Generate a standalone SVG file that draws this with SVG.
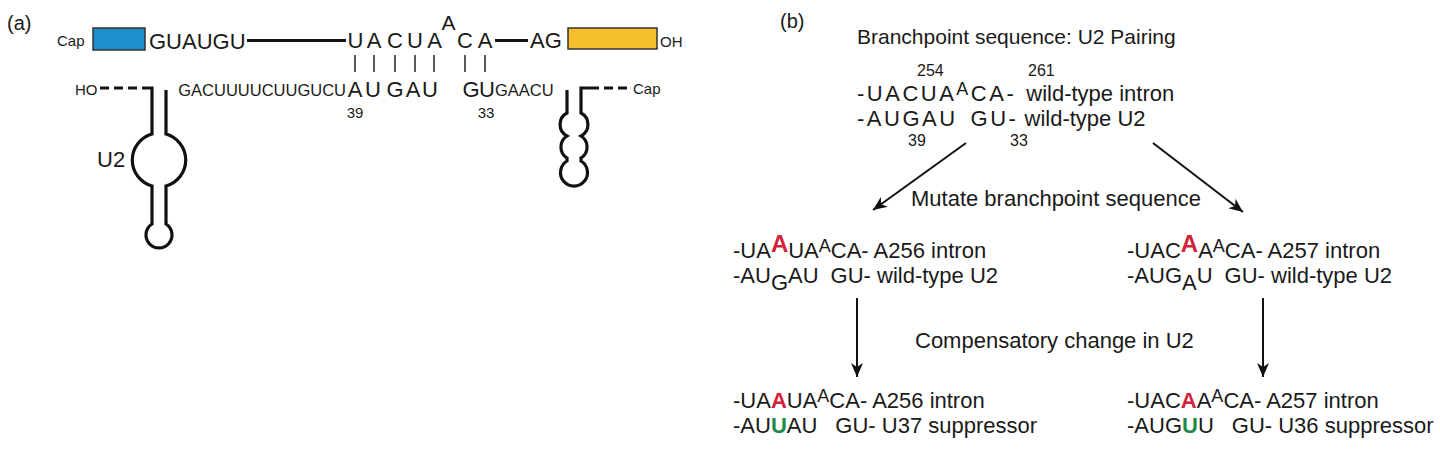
<svg xmlns="http://www.w3.org/2000/svg" width="1440" height="452" viewBox="0 0 1440 452">
<style>
text{font-family:"Liberation Sans",Arial,sans-serif;fill:#1a1a1a}
.lab{font-size:20px}
.big{font-size:22px}
.mid{font-size:16.5px}
.sm{font-size:15px}
.num{font-size:16px}
.seq{font-size:22px}
.ttl{font-size:21px}
.sup{font-size:18px}
.ls{letter-spacing:2.5px}
.red{fill:#d3233a;font-weight:bold;font-size:24px}
.redi{fill:#d3233a;font-weight:bold}
.grn{fill:#1f8a4a;font-weight:bold}
.strand{fill:none;stroke:#111;stroke-width:3.2}
.dash{fill:none;stroke:#111;stroke-width:3.2;stroke-dasharray:9 5}
.pair{stroke:#222;stroke-width:1.5}
.arr{stroke:#111;stroke-width:2;fill:none;marker-end:url(#ah)}
</style>
<defs>
<marker id="ah" markerUnits="userSpaceOnUse" markerWidth="16" markerHeight="12" refX="14" refY="6" orient="auto">
<path d="M0,0 L14,6 L0,12 L4,6 Z" fill="#111"/>
</marker>
</defs>
<rect width="1440" height="452" fill="#fff"/>

<g id="panel-a">
<text class="lab" x="7" y="30">(a)</text>
<g id="pre-mrna">
<text class="sm" x="57" y="46">Cap</text>
<rect x="93" y="28" width="52" height="22" fill="#1e8fcb" stroke="#333" stroke-width="1.5"/>
<text class="big" x="149" y="49">GUAUGU</text>
<line class="strand" x1="247" y1="40.5" x2="346" y2="40.5"/>
<g text-anchor="middle">
<text class="big" x="355.5" y="48">U</text>
<text class="big" x="374" y="48">A</text>
<text class="big" x="395" y="48">C</text>
<text class="big" x="415" y="48">U</text>
<text class="big" x="434.5" y="48">A</text>
<text class="big" x="448.5" y="30" style="font-size:21px">A</text>
<text class="big" x="465" y="48">C</text>
<text class="big" x="485" y="48">A</text>
</g>
<line class="strand" x1="495" y1="40.5" x2="528" y2="40.5"/>
<text class="big" x="530" y="48">AG</text>
<rect x="568" y="28" width="89" height="21" fill="#f4bf2c" stroke="#333" stroke-width="1.5"/>
<text class="sm" x="660" y="47">OH</text>
</g>
<g id="pairs">
<line class="pair" x1="355" y1="55" x2="355" y2="72"/>
<line class="pair" x1="374" y1="55" x2="374" y2="72"/>
<line class="pair" x1="395" y1="55" x2="395" y2="72"/>
<line class="pair" x1="415" y1="55" x2="415" y2="72"/>
<line class="pair" x1="434" y1="55" x2="434" y2="72"/>
<line class="pair" x1="465" y1="55" x2="465" y2="72"/>
<line class="pair" x1="485" y1="55" x2="485" y2="72"/>
</g>
<g id="u2-snrna">
<text class="sm" x="75" y="95">HO</text>
<line class="dash" x1="100" y1="88" x2="143" y2="88"/>
<path class="strand" d="M143,88 H152 V134 A27,27 0 0 0 152,186 V224 A13,13 0 1 0 166,224 V186 A27,27 0 0 0 166,134 V90"/>
<text class="big" x="97" y="167">U2</text>
<text class="mid" x="346" y="96" text-anchor="end">GACUUUUCUUGUCU</text>
<g text-anchor="middle">
<text class="big" x="355" y="97">A</text>
<text class="big" x="373" y="97">U</text>
<text class="big" x="395" y="97">G</text>
<text class="big" x="413" y="97">A</text>
<text class="big" x="430" y="97">U</text>
<text class="big" x="471" y="97">G</text>
<text class="big" x="487" y="97">U</text>
<text class="sm" x="355" y="118">39</text>
<text class="sm" x="486" y="118">33</text>
</g>
<text class="mid" x="495" y="96">GAACU</text>
<path class="strand" d="M590,88 H581 V113 A13,13 0 0 1 581,136 A13,13 0 0 1 581,158 V161 A13.5,13.5 0 1 1 567,161 V158 A13,13 0 0 1 567,136 A13,13 0 0 1 567,113 V90"/>
<line class="dash" x1="590" y1="88" x2="628" y2="88"/>
<text class="sm" x="633" y="94">Cap</text>
</g>
</g>

<g id="panel-b">
<text class="lab" x="780" y="28">(b)</text>
<text class="ttl" x="857" y="44">Branchpoint sequence: U2 Pairing</text>
<g id="wild-type">
<text class="num" x="917" y="76">254</text>
<text class="num" x="1028" y="76">261</text>
<text class="seq" x="857" y="101"><tspan class="ls">-UACUA</tspan><tspan class="sup ls" dy="-6">A</tspan><tspan class="ls" dy="6">CA-</tspan><tspan dx="10">wild-type intron</tspan></text>
<text class="seq" x="857" y="126"><tspan class="ls">-AUGAU</tspan><tspan class="ls" dx="13">GU-</tspan><tspan> wild-type U2</tspan></text>
<text class="num" x="908" y="146">39</text>
<text class="num" x="1010" y="146">33</text>
</g>
<g id="a256">
<text class="seq" x="733" y="258">-UA<tspan class="red" dy="-6">A</tspan><tspan dy="6">UA</tspan><tspan class="sup" dy="-6">A</tspan><tspan dy="6">CA- A256 intron</tspan></text>
<text class="seq" x="733" y="283">-AU<tspan dy="7">G</tspan><tspan dy="-7">AU</tspan><tspan dx="12">GU- wild-type U2</tspan></text>
</g>
<g id="a257">
<text class="seq" x="1127" y="258">-UAC<tspan class="red" dy="-6">A</tspan><tspan dy="6">A</tspan><tspan class="sup" dy="-6">A</tspan><tspan dy="6">CA- A257 intron</tspan></text>
<text class="seq" x="1127" y="283">-AUG<tspan dy="7">A</tspan><tspan dy="-7">U</tspan><tspan dx="12">GU- wild-type U2</tspan></text>
</g>
<g id="u37">
<text class="seq" x="733" y="408">-UA<tspan class="redi">A</tspan>UA<tspan class="sup" dy="-6">A</tspan><tspan dy="6">CA- A256 intron</tspan></text>
<text class="seq" x="733" y="433">-AU<tspan class="grn">U</tspan>AU<tspan dx="18">GU- U37 suppressor</tspan></text>
</g>
<g id="u36">
<text class="seq" x="1127" y="408">-UAC<tspan class="redi">A</tspan>A<tspan class="sup" dy="-6">A</tspan><tspan dy="6">CA- A257 intron</tspan></text>
<text class="seq" x="1127" y="433">-AUG<tspan class="grn">U</tspan>U<tspan dx="18">GU- U36 suppressor</tspan></text>
</g>
<text class="seq" x="911" y="206">Mutate branchpoint sequence</text>
<text class="seq" x="915" y="348">Compensatory change in U2</text>
<g id="connectors">
<line class="arr" x1="966" y1="143" x2="873" y2="210"/>
<line class="arr" x1="1153" y1="143" x2="1243" y2="212"/>
<line class="arr" x1="857" y1="298" x2="857" y2="377"/>
<line class="arr" x1="1263" y1="298" x2="1263" y2="377"/>
</g>
</g>
</svg>
